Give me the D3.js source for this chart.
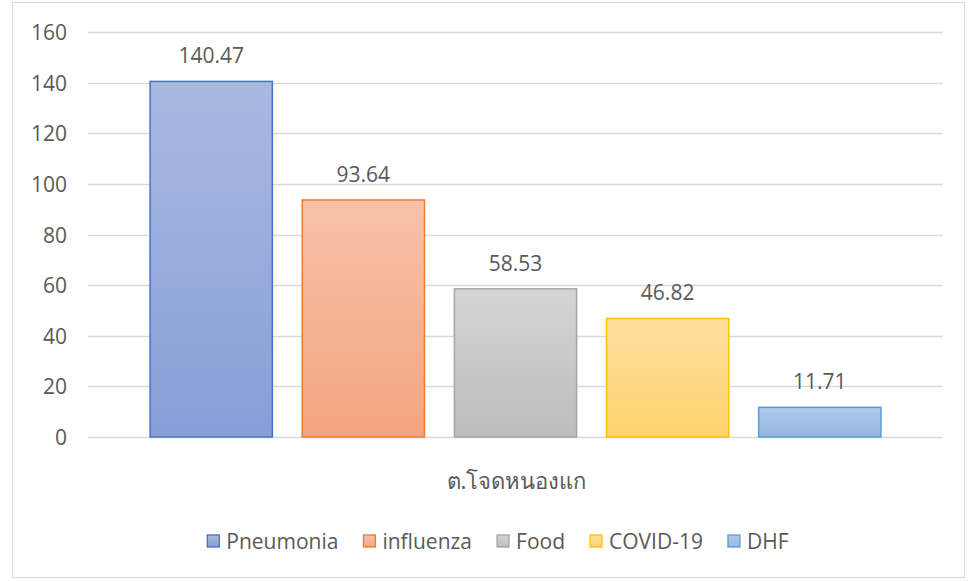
<!DOCTYPE html>
<html><head><meta charset="utf-8">
<script src="https://cdn.jsdelivr.net/npm/d3@7"></script>
<style>body{margin:0;background:#fff}svg{display:block}</style>
</head><body><svg id="c" width="971" height="581"></svg>
<script>
const category = "ต.โจดหนองแก";
const series = ["Pneumonia", "influenza", "Food", "COVID-19", "DHF"];
const values = [140.47, 93.64, 58.53, 46.82, 11.71];
const yTicks = [0, 20, 40, 60, 80, 100, 120, 140, 160];
const fillTop = ["#AAB9E1", "#F7C2AA", "#D5D5D5", "#FFDF9E", "#AFCAEB"];
const fillBottom = ["#889ED7", "#F4A47F", "#BCBCBC", "#FFD36E", "#93B7E3"];
const strokes = ["#4472C4", "#ED7D31", "#A5A5A5", "#FFC000", "#5B9BD5"];

const font = "'Open Sans', Lato, sans-serif";
const svg = d3.select("#c");
svg.append("rect").attr("x", 12.5).attr("y", 2.5).attr("width", 952).attr("height", 575)
  .attr("fill", "#fff").attr("stroke", "#D9D9D9").attr("stroke-width", 1);

const m = {left: 88, right: 943, top: 32, bottom: 437};
const y = d3.scaleLinear().domain([0, 160]).range([m.bottom, m.top]);
const x0 = d3.scaleBand().domain([category]).range([m.left, m.right]).paddingInner(0).paddingOuter(0);
const x1 = d3.scaleBand().domain(series).range([x0(category), x0(category) + x0.bandwidth()]).paddingInner(0.19).paddingOuter(0.405);

const defs = svg.append("defs");
series.forEach((s, i) => {
  const g = defs.append("linearGradient").attr("id", "g" + i).attr("x1", 0).attr("y1", 0).attr("x2", 0).attr("y2", 1);
  g.append("stop").attr("offset", "0%").attr("stop-color", fillTop[i]);
  g.append("stop").attr("offset", "100%").attr("stop-color", fillBottom[i]);
});

// gridlines
svg.append("g").selectAll("line").data(yTicks).join("line")
  .attr("x1", m.left).attr("x2", m.right)
  .attr("y1", d => Math.round(y(d)) + 0.5).attr("y2", d => Math.round(y(d)) + 0.5)
  .attr("stroke", "#D9D9D9").attr("stroke-width", 1.3);

// y axis labels
const yAxis = d3.axisLeft(y).tickValues(yTicks).tickSize(0).tickPadding(0);
const ya = svg.append("g").attr("transform", `translate(67,0)`).call(yAxis);
ya.select(".domain").remove();
ya.selectAll("text").attr("font-family", font).attr("font-size", 21).attr("fill", "#595959").attr("dy", "0.36em");

// bars
svg.append("g").selectAll("rect").data(values).join("rect")
  .attr("x", (d, i) => x1(series[i]) + 0.5)
  .attr("y", d => y(d))
  .attr("width", x1.bandwidth() - 1)
  .attr("height", d => y(0) - y(d))
  .attr("fill", (d, i) => `url(#g${i})`)
  .attr("stroke", (d, i) => strokes[i]).attr("stroke-width", 1.5);

// value labels
svg.append("g").selectAll("text").data(values).join("text")
  .attr("x", (d, i) => x1(series[i]) + x1.bandwidth() / 2)
  .attr("y", d => y(d) - 18)
  .attr("text-anchor", "middle")
  .attr("font-family", font).attr("font-size", 21).attr("fill", "#595959")
  .text(d => d.toFixed(2));

// category label
svg.append("text").attr("x", x0(category) + x0.bandwidth() / 2 + 1).attr("y", 489)
  .attr("text-anchor", "middle").attr("font-family", "'Noto Sans', 'DejaVu Sans', sans-serif")
  .attr("font-size", 22).attr("fill", "#595959").text(category);

// legend
const lg = svg.append("g");
const items = lg.selectAll("g").data(series).join("g");
items.append("rect").attr("width", 12).attr("height", 12).attr("y", -6)
  .attr("fill", (d, i) => `url(#g${i})`).attr("stroke", (d, i) => strokes[i]).attr("stroke-width", 1.3);
items.append("text").attr("x", 19).attr("dy", "0.36em")
  .attr("font-family", font).attr("font-size", 21).attr("fill", "#595959").text(d => d);
let xpos = 0;
const gap = 25;
items.each(function() {
  const w = this.getBBox().width;
  d3.select(this).attr("transform", `translate(${xpos},0)`);
  xpos += w + gap;
});
const total = xpos - gap;
lg.attr("transform", `translate(${498 - total / 2},541)`);
</script></body></html>
